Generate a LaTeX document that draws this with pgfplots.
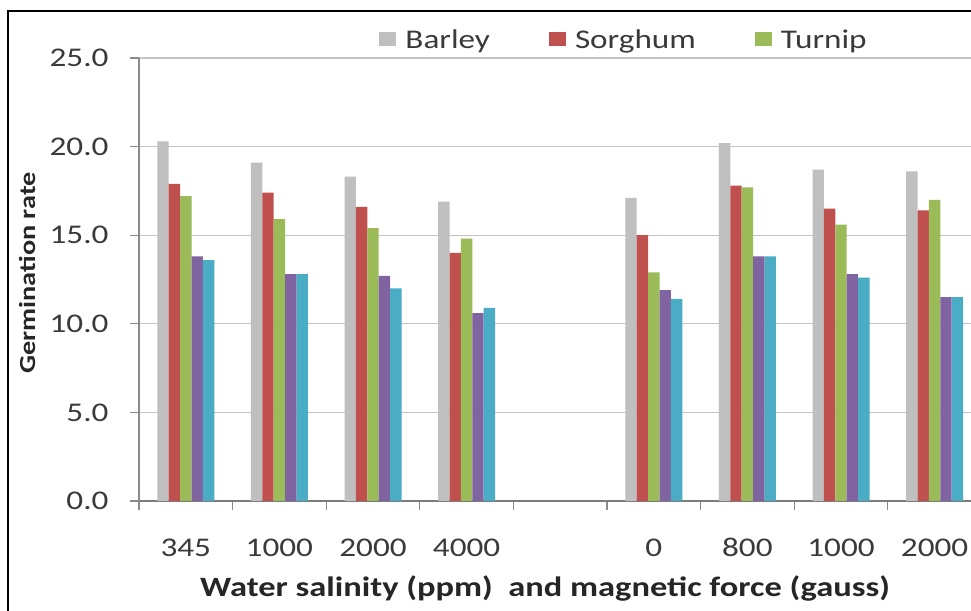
\documentclass[border=0pt]{standalone}
\usepackage{fontspec}
\setmainfont{Carlito}[FakeStretch=1.23]
\usepackage{pgfplots}
\usepackage{pgfplotstable}
\pgfplotsset{compat=1.18}
\definecolor{cBarley}{HTML}{BFBFBF}
\definecolor{cSorghum}{HTML}{C0504D}
\definecolor{cTurnip}{HTML}{9BBB59}
\definecolor{cFour}{HTML}{8064A2}
\definecolor{cFive}{HTML}{4BACC6}
\definecolor{txt}{HTML}{3A3A3A}
\definecolor{gridc}{HTML}{C4C4C4}
\definecolor{axisc}{HTML}{8A8A8A}

\pgfplotstableread{
x barley sorghum turnip sfour sfive
0 20.3 17.9 17.2 13.8 13.6
1 19.1 17.4 15.9 12.8 12.8
2 18.3 16.6 15.4 12.7 12.0
3 16.9 14.0 14.8 10.6 10.9
5 17.1 15.0 12.9 11.9 11.4
6 20.2 17.8 17.7 13.8 13.8
7 18.7 16.5 15.6 12.8 12.6
8 18.6 16.4 17.0 11.5 11.5
}\datatable

\newcommand\tfont{\fontsize{27}{32}\selectfont}

\begin{document}
\begin{tikzpicture}
\useasboundingbox (0pt,0pt) rectangle (971pt,610pt);
\clip (0pt,0pt) rectangle (971pt,610pt);
\fill[white] (0pt,0pt) rectangle (971pt,610pt);
\draw[line width=1.8pt] (8pt,599pt) rectangle (1000pt,-20pt);
\begin{axis}[
  at={(139pt,109pt)}, anchor=south west,
  scale only axis, width=832pt, height=443pt,
  ybar=0pt, bar width=11.4pt,
  xmin=-0.5, xmax=8.389, ymin=0, ymax=25,
  ytick={0,5,...,25},
  /pgf/number format/assume math mode=true,
  /pgf/number format/fixed, /pgf/number format/fixed zerofill, /pgf/number format/precision=1,
  ymajorgrids, grid style={draw=gridc, line width=1.2pt},
  axis x line*=bottom, axis y line*=left,
  x axis line style={draw=axisc!90!black, line width=1.6pt},
  y axis line style={draw=axisc, line width=1.2pt},
  xtick={-0.5,0.5,...,7.5},
  xticklabels={,,,,,,,,,},
  extra x ticks={0,1,2,3,5,6,7,8},
  extra x tick labels={345,1000,2000,4000,0,800,1000,2000},
  extra x tick style={major tick length=0pt},
  tick align=outside, major tick length=9pt,
  tick style={draw=axisc, line width=1.2pt},
  tick label style={font=\tfont, text=txt},
  xticklabel style={yshift=-34pt},
  yticklabel style={xshift=-18pt},
  xlabel={Water salinity (ppm)\ \ and magnetic force (gauss)},
  ylabel={Germination rate},
  every axis x label/.style={at={(axis description cs:0.488,-0.1964)}, anchor=center, font=\fontsize{28}{32}\selectfont\bfseries, text=black!85},
  every axis y label/.style={at={(axis description cs:-0.1346,0.515)}, anchor=center, rotate=90, font=\fontsize{23}{28}\selectfont\bfseries, text=black!85},
  legend style={at={(axis description cs:0.583,1.0406)}, anchor=center, legend columns=3, draw=none, fill=none, font=\tfont, text=txt,
    /tikz/every even column/.append style={column sep=57pt}},
  legend image code/.code={\path[#1] (0pt,-6pt) rectangle (17pt,8pt); \path (24pt,0pt);},
]
\addplot[fill=cBarley, draw=none, bar shift=-22.8pt] table[x=x,y=barley] {\datatable};
\addlegendentry{Barley}
\addplot[fill=cSorghum, draw=none, bar shift=-11.4pt] table[x=x,y=sorghum] {\datatable};
\addlegendentry{Sorghum}
\addplot[fill=cTurnip, draw=none, bar shift=0pt] table[x=x,y=turnip] {\datatable};
\addlegendentry{Turnip}
\addplot[fill=cFour, draw=none, bar shift=11.4pt] table[x=x,y=sfour] {\datatable};
\addplot[fill=cFive, draw=none, bar shift=22.8pt] table[x=x,y=sfive] {\datatable};
\end{axis}
\end{tikzpicture}
\end{document}
